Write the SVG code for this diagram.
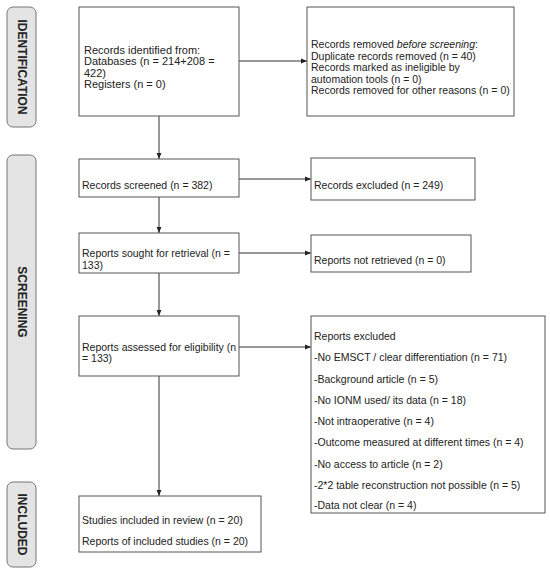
<svg xmlns="http://www.w3.org/2000/svg" width="550" height="572" viewBox="0 0 550 572">
<defs>
<style>
.box{fill:#fff;stroke:#555;stroke-width:1}
.tab{fill:#e4e4e4;stroke:#777;stroke-width:1}
.t{font-family:"Liberation Sans",Arial,sans-serif;font-size:10.5px;fill:#222}
.t11{font-size:11px}
.lab{font-family:"Liberation Sans",Arial,sans-serif;font-size:12px;font-weight:bold;fill:#222}
.c{stroke:#333;stroke-width:1;fill:none;marker-end:url(#ah)}
</style>
<marker id="ah" viewBox="0 0 10 10" refX="10" refY="5" markerWidth="6" markerHeight="6" orient="auto" markerUnits="userSpaceOnUse">
<path d="M0,1 L10,5 L0,9 z" fill="#222"/>
</marker>
</defs>
<rect width="550" height="572" fill="#fff"/>
<g id="tab-identification">
<rect class="tab" x="7" y="7" width="29" height="120" rx="6"/>
<text class="lab" transform="translate(22,67) rotate(90)" text-anchor="middle" dominant-baseline="central">IDENTIFICATION</text>
</g>
<g id="tab-screening">
<rect class="tab" x="7" y="155" width="29" height="294" rx="6"/>
<text class="lab" transform="translate(22,302) rotate(90)" text-anchor="middle" dominant-baseline="central">SCREENING</text>
</g>
<g id="tab-included">
<rect class="tab" x="7" y="482" width="29" height="85" rx="6"/>
<text class="lab" transform="translate(22,524.5) rotate(90)" text-anchor="middle" dominant-baseline="central">INCLUDED</text>
</g>
<g id="connectors">
<line class="c" x1="239" y1="61" x2="307" y2="61"/>
<line class="c" x1="159" y1="116" x2="159" y2="159"/>
<line class="c" x1="239" y1="179" x2="311" y2="179"/>
<line class="c" x1="159" y1="197" x2="159" y2="233"/>
<line class="c" x1="239" y1="253" x2="311" y2="253"/>
<line class="c" x1="159" y1="273" x2="159" y2="316"/>
<line class="c" x1="239" y1="347" x2="311" y2="347"/>
<line class="c" x1="159" y1="376" x2="159" y2="496"/>
</g>
<g id="records-identified">
<rect class="box" x="79" y="7" width="160" height="109"/>
<text class="t t11" x="84" y="54">Records identified from:</text>
<text class="t t11" x="84" y="65.3">Databases (n = 214+208 =</text>
<text class="t t11" x="84" y="76.6">422)</text>
<text class="t t11" x="84" y="88">Registers (n = 0)</text>
</g>
<g id="records-removed">
<rect class="box" x="307" y="7" width="207" height="109"/>
<text class="t" x="311" y="48">Records removed <tspan font-style="italic">before screening</tspan>:</text>
<text class="t" x="311" y="59.5">Duplicate records removed (n = 40)</text>
<text class="t" x="311" y="71">Records marked as ineligible by</text>
<text class="t" x="311" y="82.5">automation tools (n = 0)</text>
<text class="t" x="311" y="94">Records removed for other reasons (n = 0)</text>
</g>
<g id="records-screened">
<rect class="box" x="79" y="159" width="160" height="38"/>
<text class="t" x="82" y="188.5">Records screened (n = 382)</text>
</g>
<g id="records-excluded">
<rect class="box" x="311" y="158" width="164" height="42"/>
<text class="t" x="314" y="188.5">Records excluded (n = 249)</text>
</g>
<g id="reports-sought">
<rect class="box" x="79" y="233" width="160" height="40"/>
<text class="t" x="82" y="256.5">Reports sought for retrieval (n =</text>
<text class="t" x="82" y="268.5">133)</text>
</g>
<g id="reports-not-retrieved">
<rect class="box" x="311" y="235" width="160" height="37"/>
<text class="t" x="314" y="263.5">Reports not retrieved (n = 0)</text>
</g>
<g id="reports-assessed">
<rect class="box" x="79" y="316" width="160" height="60"/>
<text class="t" x="82" y="350.5">Reports assessed for eligibility (n</text>
<text class="t" x="82" y="361.5">= 133)</text>
</g>
<g id="reports-excluded">
<rect class="box" x="311" y="316" width="234" height="197"/>
<text class="t" x="314" y="339.5">Reports excluded</text>
<text class="t" x="314" y="360.8">-No EMSCT / clear differentiation (n = 71)</text>
<text class="t" x="314" y="382.5">-Background article (n = 5)</text>
<text class="t" x="314" y="404">-No IONM used/ its data (n = 18)</text>
<text class="t" x="314" y="425">-Not intraoperative (n = 4)</text>
<text class="t" x="314" y="446.2">-Outcome measured at different times (n = 4)</text>
<text class="t" x="314" y="467.5">-No access to article (n = 2)</text>
<text class="t" x="314" y="489">-2*2 table reconstruction not possible (n = 5)</text>
<text class="t" x="314" y="508.5">-Data not clear (n = 4)</text>
</g>
<g id="studies-included">
<rect class="box" x="79" y="496" width="182" height="56"/>
<text class="t" x="82" y="523.5">Studies included in review (n = 20)</text>
<text class="t" x="82" y="544.5">Reports of included studies (n = 20)</text>
</g>
</svg>
